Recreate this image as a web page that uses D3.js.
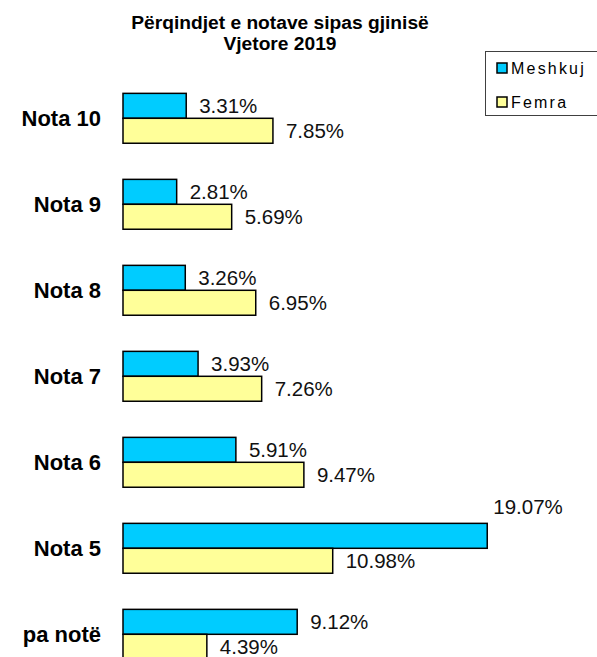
<!DOCTYPE html>
<html>
<head>
<meta charset="utf-8">
<script src="https://cdn.jsdelivr.net/npm/d3@7"></script>
<style>
  body { margin: 0; background: #fff; }
  svg { display: block; font-family: "Liberation Sans", Arial, sans-serif; }
</style>
</head>
<body>
<script>
// data
var categories = ["Nota 10", "Nota 9", "Nota 8", "Nota 7", "Nota 6", "Nota 5", "pa notë"];
var series = ["Meshkuj", "Femra"];
var meshkuj = [3.31, 2.81, 3.26, 3.93, 5.91, 19.07, 9.12];
var femra = [7.85, 5.69, 6.95, 7.26, 9.47, 10.98, 4.39];
var colors = ["#00ccff", "#ffff99"];
var titleLines = ["Përqindjet e notave sipas gjinisë", "Vjetore 2019"];

var width = 597, height = 657;

var svg = d3.select("body").append("svg")
	.attr("width", width)
	.attr("height", height);

// scales
var x = d3.scaleLinear()
	.domain([0, 20])
	.range([123, 505]);

var y = d3.scaleBand()
	.domain(categories)
	.range([75.3, 75.3 + 86 * categories.length])
	.paddingInner(0.42)
	.paddingOuter(0.21);

var ySub = d3.scaleBand()
	.domain(series)
	.range([0, y.bandwidth()]);

var plotRight = 560;

// rows
var rows = categories.map(function(c, i) {
	return { cat: c, vals: [meshkuj[i], femra[i]] };
});

var g = svg.selectAll("g.row")
	.data(rows)
	.enter().append("g")
	.attr("class", "row")
	.attr("transform", function(d) { return "translate(0," + y(d.cat) + ")"; });

// category labels
g.append("text")
	.attr("x", 101)
	.attr("y", y.bandwidth() / 2 + 7.5)
	.attr("text-anchor", "end")
	.attr("font-size", 22)
	.attr("font-weight", "bold")
	.attr("fill", "#000")
	.text(function(d) { return d.cat; });

// bars
g.selectAll("rect")
	.data(function(d) { return d.vals.map(function(v, j) { return { s: series[j], v: v, j: j }; }); })
	.enter().append("rect")
	.attr("x", x(0))
	.attr("y", function(d) { return ySub(d.s); })
	.attr("width", function(d) { return x(d.v) - x(0); })
	.attr("height", ySub.bandwidth())
	.attr("fill", function(d) { return colors[d.j]; })
	.attr("stroke", "#000")
	.attr("stroke-width", 1.5);

// value labels
g.selectAll("text.val")
	.data(function(d) { return d.vals.map(function(v, j) { return { s: series[j], v: v, j: j }; }); })
	.enter().append("text")
	.attr("class", "val")
	.attr("font-size", 20.5)
	.attr("fill", "#111")
	.each(function(d) {
		var t = d3.select(this).text(d.v.toFixed(2) + "%");
		var w = this.getComputedTextLength();
		if (x(d.v) + 13 + w > plotRight) {
			// no room on the right: put it above the bar end
			t.attr("x", x(d.v) + 6).attr("y", ySub(d.s) - 9);
		} else {
			t.attr("x", x(d.v) + 13).attr("y", ySub(d.s) + ySub.bandwidth() / 2 + 7.5);
		}
	});

// title
svg.selectAll("text.title")
	.data(titleLines)
	.enter().append("text")
	.attr("class", "title")
	.attr("x", 280)
	.attr("y", function(d, i) { return 29 + i * 21; })
	.attr("text-anchor", "middle")
	.attr("font-size", 19.2)
	.attr("font-weight", "bold")
	.attr("fill", "#000")
	.text(function(d) { return d; });

// legend
var legend = svg.append("g");
legend.append("rect")
	.attr("x", 485.5)
	.attr("y", 51.5)
	.attr("width", 120)
	.attr("height", 64)
	.attr("fill", "#fff")
	.attr("stroke", "#404040")
	.attr("stroke-width", 1);

var li = legend.selectAll("g.item")
	.data(series)
	.enter().append("g")
	.attr("class", "item")
	.attr("transform", function(d, i) { return "translate(497," + (63 + i * 34) + ")"; });

li.append("rect")
	.attr("width", 10)
	.attr("height", 10)
	.attr("fill", function(d, i) { return colors[i]; })
	.attr("stroke", "#000")
	.attr("stroke-width", 1.5);

li.append("text")
	.attr("x", 14)
	.attr("y", 11)
	.attr("font-size", 16)
	.attr("letter-spacing", 2.2)
	.attr("fill", "#000")
	.text(function(d) { return d; });
</script>
</body>
</html>
